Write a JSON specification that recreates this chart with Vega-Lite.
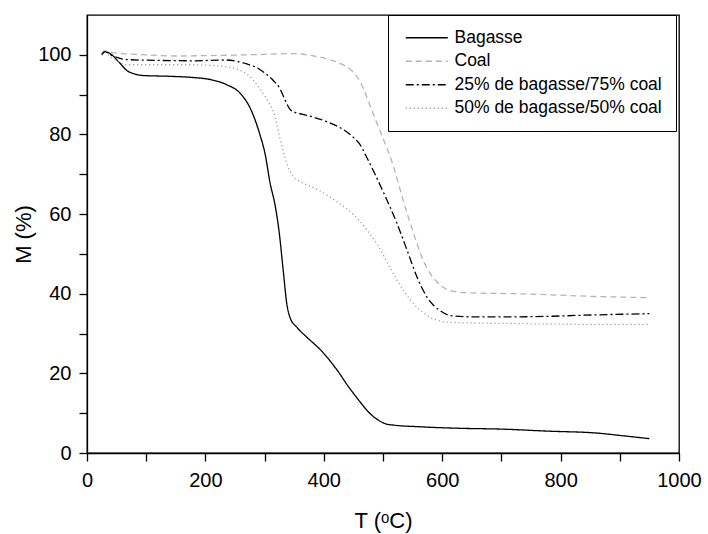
{
  "$schema": "https://vega.github.io/schema/vega-lite/v6.json",
  "autosize": "none",
  "width": 592,
  "height": 438,
  "padding": {"left": 87, "top": 15, "right": 29, "bottom": 81},
  "background": "white",
  "config": {
    "font": "Liberation Sans",
    "view": {"stroke": "black", "strokeWidth": 1.3},
    "axis": {"grid": false, "domainColor": "black", "tickColor": "black", "labelColor": "black", "titleColor": "black", "domainWidth": 1.3, "tickWidth": 1.3, "labelFont": "Liberation Sans", "titleFont": "Liberation Sans", "labelFontSize": 20, "titleFontSize": 22, "titleFontWeight": "normal", "tickSize": 8}
  },
  "datasets": {
    "tga": [
      {"T": 25, "M": 100, "s": "Bagasse"}, {"T": 30, "M": 100.8, "s": "Bagasse"}, {"T": 40, "M": 100.2, "s": "Bagasse"}, {"T": 55, "M": 98, "s": "Bagasse"}, {"T": 68, "M": 96, "s": "Bagasse"}, {"T": 80, "M": 95.2, "s": "Bagasse"}, {"T": 95, "M": 94.8, "s": "Bagasse"}, {"T": 140, "M": 94.6, "s": "Bagasse"}, {"T": 179, "M": 94.3, "s": "Bagasse"}, {"T": 208, "M": 93.8, "s": "Bagasse"}, {"T": 236, "M": 92.5, "s": "Bagasse"}, {"T": 259, "M": 90.3, "s": "Bagasse"}, {"T": 276, "M": 86.5, "s": "Bagasse"}, {"T": 292, "M": 80, "s": "Bagasse"}, {"T": 301, "M": 75, "s": "Bagasse"}, {"T": 309, "M": 68, "s": "Bagasse"}, {"T": 318, "M": 62, "s": "Bagasse"}, {"T": 325, "M": 55, "s": "Bagasse"}, {"T": 331, "M": 46.5, "s": "Bagasse"}, {"T": 338, "M": 37, "s": "Bagasse"}, {"T": 343, "M": 34, "s": "Bagasse"}, {"T": 355, "M": 31.5, "s": "Bagasse"}, {"T": 372, "M": 29, "s": "Bagasse"}, {"T": 397, "M": 25.5, "s": "Bagasse"}, {"T": 424, "M": 20.5, "s": "Bagasse"}, {"T": 440, "M": 17, "s": "Bagasse"}, {"T": 450, "M": 15, "s": "Bagasse"}, {"T": 462, "M": 12.7, "s": "Bagasse"}, {"T": 473, "M": 10.7, "s": "Bagasse"}, {"T": 485, "M": 9, "s": "Bagasse"}, {"T": 495, "M": 8, "s": "Bagasse"}, {"T": 505, "M": 7.3, "s": "Bagasse"}, {"T": 518, "M": 7, "s": "Bagasse"}, {"T": 560, "M": 6.6, "s": "Bagasse"}, {"T": 631, "M": 6.2, "s": "Bagasse"}, {"T": 700, "M": 6, "s": "Bagasse"}, {"T": 777, "M": 5.5, "s": "Bagasse"}, {"T": 862, "M": 5, "s": "Bagasse"}, {"T": 901, "M": 4.4, "s": "Bagasse"}, {"T": 950, "M": 3.6, "s": "Bagasse"},
      {"T": 25, "M": 100.5, "s": "Coal"}, {"T": 30, "M": 101, "s": "Coal"}, {"T": 40, "M": 100.6, "s": "Coal"}, {"T": 60, "M": 100.3, "s": "Coal"}, {"T": 100, "M": 100, "s": "Coal"}, {"T": 150, "M": 99.7, "s": "Coal"}, {"T": 200, "M": 99.8, "s": "Coal"}, {"T": 270, "M": 100, "s": "Coal"}, {"T": 349, "M": 100.3, "s": "Coal"}, {"T": 380, "M": 99.8, "s": "Coal"}, {"T": 405, "M": 99, "s": "Coal"}, {"T": 428, "M": 97.8, "s": "Coal"}, {"T": 445, "M": 96.3, "s": "Coal"}, {"T": 457, "M": 94.3, "s": "Coal"}, {"T": 467, "M": 91.5, "s": "Coal"}, {"T": 475, "M": 88.5, "s": "Coal"}, {"T": 484, "M": 85, "s": "Coal"}, {"T": 500, "M": 79, "s": "Coal"}, {"T": 512, "M": 74.5, "s": "Coal"}, {"T": 518, "M": 71.8, "s": "Coal"}, {"T": 535, "M": 63, "s": "Coal"}, {"T": 552, "M": 55, "s": "Coal"}, {"T": 569, "M": 48, "s": "Coal"}, {"T": 580, "M": 45, "s": "Coal"}, {"T": 591, "M": 43, "s": "Coal"}, {"T": 603, "M": 41.5, "s": "Coal"}, {"T": 614, "M": 40.7, "s": "Coal"}, {"T": 650, "M": 40.2, "s": "Coal"}, {"T": 727, "M": 40, "s": "Coal"}, {"T": 862, "M": 39.3, "s": "Coal"}, {"T": 950, "M": 39, "s": "Coal"},
      {"T": 25, "M": 100, "s": "25% de bagasse/75% coal"}, {"T": 30, "M": 100.8, "s": "25% de bagasse/75% coal"}, {"T": 40, "M": 100, "s": "25% de bagasse/75% coal"}, {"T": 68, "M": 98.8, "s": "25% de bagasse/75% coal"}, {"T": 120, "M": 98.6, "s": "25% de bagasse/75% coal"}, {"T": 179, "M": 98.5, "s": "25% de bagasse/75% coal"}, {"T": 236, "M": 98.7, "s": "25% de bagasse/75% coal"}, {"T": 255, "M": 98.3, "s": "25% de bagasse/75% coal"}, {"T": 270, "M": 97.7, "s": "25% de bagasse/75% coal"}, {"T": 290, "M": 96.5, "s": "25% de bagasse/75% coal"}, {"T": 304, "M": 95, "s": "25% de bagasse/75% coal"}, {"T": 315, "M": 93.5, "s": "25% de bagasse/75% coal"}, {"T": 326, "M": 91.5, "s": "25% de bagasse/75% coal"}, {"T": 335, "M": 88.5, "s": "25% de bagasse/75% coal"}, {"T": 343, "M": 86.3, "s": "25% de bagasse/75% coal"}, {"T": 352, "M": 85.5, "s": "25% de bagasse/75% coal"}, {"T": 360, "M": 85.2, "s": "25% de bagasse/75% coal"}, {"T": 405, "M": 83.2, "s": "25% de bagasse/75% coal"}, {"T": 440, "M": 80.5, "s": "25% de bagasse/75% coal"}, {"T": 452, "M": 79, "s": "25% de bagasse/75% coal"}, {"T": 461, "M": 77.5, "s": "25% de bagasse/75% coal"}, {"T": 470, "M": 75, "s": "25% de bagasse/75% coal"}, {"T": 485, "M": 70.5, "s": "25% de bagasse/75% coal"}, {"T": 500, "M": 65.7, "s": "25% de bagasse/75% coal"}, {"T": 524, "M": 57.5, "s": "25% de bagasse/75% coal"}, {"T": 541, "M": 50.8, "s": "25% de bagasse/75% coal"}, {"T": 558, "M": 44, "s": "25% de bagasse/75% coal"}, {"T": 575, "M": 39, "s": "25% de bagasse/75% coal"}, {"T": 586, "M": 37, "s": "25% de bagasse/75% coal"}, {"T": 597, "M": 35.7, "s": "25% de bagasse/75% coal"}, {"T": 614, "M": 34.5, "s": "25% de bagasse/75% coal"}, {"T": 650, "M": 34.2, "s": "25% de bagasse/75% coal"}, {"T": 727, "M": 34.2, "s": "25% de bagasse/75% coal"}, {"T": 862, "M": 34.7, "s": "25% de bagasse/75% coal"}, {"T": 950, "M": 35, "s": "25% de bagasse/75% coal"},
      {"T": 25, "M": 100, "s": "50% de bagasse/50% coal"}, {"T": 30, "M": 100.6, "s": "50% de bagasse/50% coal"}, {"T": 40, "M": 99.5, "s": "50% de bagasse/50% coal"}, {"T": 68, "M": 97.5, "s": "50% de bagasse/50% coal"}, {"T": 179, "M": 97.5, "s": "50% de bagasse/50% coal"}, {"T": 236, "M": 97, "s": "50% de bagasse/50% coal"}, {"T": 255, "M": 96.3, "s": "50% de bagasse/50% coal"}, {"T": 270, "M": 95.2, "s": "50% de bagasse/50% coal"}, {"T": 292, "M": 91.5, "s": "50% de bagasse/50% coal"}, {"T": 305, "M": 88.5, "s": "50% de bagasse/50% coal"}, {"T": 315, "M": 85.7, "s": "50% de bagasse/50% coal"}, {"T": 326, "M": 79, "s": "50% de bagasse/50% coal"}, {"T": 332, "M": 75.5, "s": "50% de bagasse/50% coal"}, {"T": 338, "M": 72.5, "s": "50% de bagasse/50% coal"}, {"T": 349, "M": 69.3, "s": "50% de bagasse/50% coal"}, {"T": 360, "M": 68.2, "s": "50% de bagasse/50% coal"}, {"T": 389, "M": 66.2, "s": "50% de bagasse/50% coal"}, {"T": 405, "M": 64.8, "s": "50% de bagasse/50% coal"}, {"T": 423, "M": 63, "s": "50% de bagasse/50% coal"}, {"T": 440, "M": 61.2, "s": "50% de bagasse/50% coal"}, {"T": 456, "M": 59, "s": "50% de bagasse/50% coal"}, {"T": 473, "M": 56, "s": "50% de bagasse/50% coal"}, {"T": 490, "M": 52.5, "s": "50% de bagasse/50% coal"}, {"T": 512, "M": 46.5, "s": "50% de bagasse/50% coal"}, {"T": 535, "M": 40.7, "s": "50% de bagasse/50% coal"}, {"T": 558, "M": 36.5, "s": "50% de bagasse/50% coal"}, {"T": 575, "M": 34.5, "s": "50% de bagasse/50% coal"}, {"T": 585, "M": 33.7, "s": "50% de bagasse/50% coal"}, {"T": 614, "M": 32.8, "s": "50% de bagasse/50% coal"}, {"T": 727, "M": 32.5, "s": "50% de bagasse/50% coal"}, {"T": 862, "M": 32.3, "s": "50% de bagasse/50% coal"}, {"T": 950, "M": 32.3, "s": "50% de bagasse/50% coal"}
    ]
  },
  "data": {"name": "tga"},
  "layer": [
    {
      "mark": {"type": "line", "interpolate": "monotone", "strokeWidth": 1.3},
      "encoding": {
        "x": {"field": "T", "type": "quantitative", "scale": {"domain": [0, 1000], "nice": false},
          "axis": {"title": "T (ᵒC)", "format": "d", "values": [0, 100, 200, 300, 400, 500, 600, 700, 800, 900, 1000], "labelExpr": "datum.value % 200 === 0 ? datum.label : ''", "labelPadding": 9, "titlePadding": 20, "labelFlush": false, "labelOverlap": false,
            "encode": {"ticks": {"update": {"y2": {"signal": "datum.value % 200 === 0 ? 8 : 5"}}}}}},
        "y": {"field": "M", "type": "quantitative", "scale": {"domain": [0, 110], "nice": false},
          "axis": {"title": "M (%)", "values": [0, 10, 20, 30, 40, 50, 60, 70, 80, 90, 100], "labelExpr": "datum.value % 20 === 0 ? datum.label : ''", "labelPadding": 8, "titlePadding": 2, "labelFlush": false, "labelOverlap": false,
            "encode": {"ticks": {"update": {"x2": {"signal": "datum.value % 20 === 0 ? -8 : -5"}}}}}},
        "color": {"field": "s", "type": "nominal",
          "scale": {"domain": ["Bagasse", "Coal", "25% de bagasse/75% coal", "50% de bagasse/50% coal"], "range": ["#000000", "#b4b4b4", "#000000", "#8c8c8c"]},
          "legend": {"title": null, "orient": "none", "legendX": 301, "legendY": 0, "symbolType": "M-1,0H7.4", "symbolSize": 100, "symbolStrokeWidth": 1.3, "labelFontSize": 17.5, "labelFont": "Liberation Sans", "labelColor": "black", "labelOffset": 35, "rowPadding": 4.5, "padding": 14, "strokeColor": "black", "fillColor": "white", "labelLimit": 400}},
        "strokeDash": {"field": "s", "type": "nominal",
          "scale": {"domain": ["Bagasse", "Coal", "25% de bagasse/75% coal", "50% de bagasse/50% coal"], "range": [[1, 0], [6, 4], [8, 3, 2, 3], [1, 3]]},
          "legend": {"title": null, "orient": "none", "legendX": 301, "legendY": 0, "symbolType": "M-1,0H7.4", "symbolSize": 100, "symbolStrokeWidth": 1.3, "labelFontSize": 17.5, "labelFont": "Liberation Sans", "labelColor": "black", "labelOffset": 35, "rowPadding": 4.5, "padding": 14, "strokeColor": "black", "fillColor": "white", "labelLimit": 400}},
        "detail": {"field": "s"}
      }
    }
  ]
}
